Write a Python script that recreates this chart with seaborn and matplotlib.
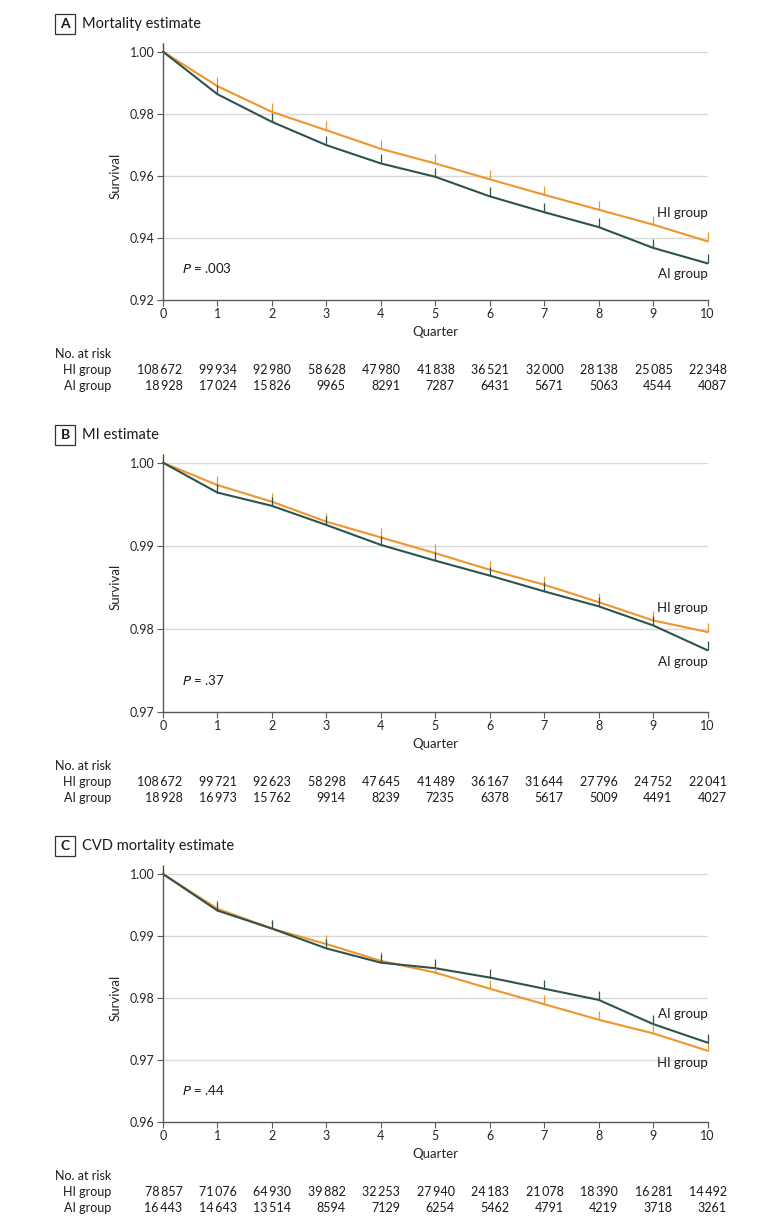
import numpy as np
import pandas as pd
import seaborn as sns
import matplotlib.pyplot as plt
from matplotlib.path import Path
from matplotlib.patches import Rectangle

##################
## Data
quarters = list(range(11))
groups = ["HI group", "AI group"]

titles = ["Mortality estimate", "MI estimate", "CVD mortality estimate"]
letters = ["A", "B", "C"]
p_texts = [".003", ".37", ".44"]

# survival estimates per quarter
hi_mort = [1.0, 0.9889, 0.9806, 0.9747, 0.9687, 0.9640, 0.9589, 0.9539, 0.9491, 0.9443, 0.9389]
ai_mort = [1.0, 0.9863, 0.9774, 0.9699, 0.9640, 0.9597, 0.9534, 0.9483, 0.9435, 0.9368, 0.9318]
hi_mi = [1.0, 0.9973, 0.9953, 0.9929, 0.9910, 0.9891, 0.9871, 0.9853, 0.9832, 0.9810, 0.9796]
ai_mi = [1.0, 0.9964, 0.9948, 0.9925, 0.9901, 0.9882, 0.9864, 0.9845, 0.9827, 0.9804, 0.9774]
hi_cvd = [1.0, 0.9944, 0.9912, 0.9887, 0.9860, 0.9841, 0.9815, 0.9790, 0.9765, 0.9743, 0.9715]
ai_cvd = [1.0, 0.9941, 0.9912, 0.9880, 0.9857, 0.9848, 0.9833, 0.9815, 0.9797, 0.9758, 0.9728]

# numbers at risk
hi_risk_mort = [108672, 99934, 92980, 58628, 47980, 41838, 36521, 32000, 28138, 25085, 22348]
ai_risk_mort = [18928, 17024, 15826, 9965, 8291, 7287, 6431, 5671, 5063, 4544, 4087]
hi_risk_mi = [108672, 99721, 92623, 58298, 47645, 41489, 36167, 31644, 27796, 24752, 22041]
ai_risk_mi = [18928, 16973, 15762, 9914, 8239, 7235, 6378, 5617, 5009, 4491, 4027]
hi_risk_cvd = [78857, 71076, 64930, 39882, 32253, 27940, 24183, 21078, 18390, 16281, 14492]
ai_risk_cvd = [16443, 14643, 13514, 8594, 7129, 6254, 5462, 4791, 4219, 3718, 3261]

y_ticks = [[0.92, 0.94, 0.96, 0.98, 1.00],
           [0.97, 0.98, 0.99, 1.00],
           [0.96, 0.97, 0.98, 0.99, 1.00]]
# label heights for the two group names (HI, AI)
label_y = [[0.9481, 0.9284], [0.98246, 0.97595], [0.96955, 0.97747]]

surv = [(hi_mort, ai_mort), (hi_mi, ai_mi), (hi_cvd, ai_cvd)]
risk = [(hi_risk_mort, ai_risk_mort), (hi_risk_mi, ai_risk_mi), (hi_risk_cvd, ai_risk_cvd)]

ORANGE = "#F0952C"
TEAL = "#2C544F"
palette = {"HI group": ORANGE, "AI group": TEAL}
GRID = "#d8d8d8"
SPINE = "#5a5a5a"

sns.set_theme(style="white")
plt.rcParams['font.family'] = ['Lato', 'DejaVu Sans']
plt.rcParams['text.color'] = '#1a1a1a'

fig = plt.figure(figsize=(7.8, 12.27), dpi=100)
W, H = 780, 1227

# censor tick: short vertical stroke going up from the point
tick_mark = Path([(0, 0), (0, 1)])


def fmt(n):
    if n >= 10000:
        return f"{n:,}".replace(",", "\u2009")
    return str(n)


axes_top = [51.7, 462.7, 874]
axes_bot = [300, 711.7, 1122]
left_px, right_px = 163, 707.5

for i in range(3):
    top, bot = axes_top[i], axes_bot[i]
    ax = fig.add_axes([left_px / W, 1 - bot / H, (right_px - left_px) / W, (bot - top) / H])

    df = pd.DataFrame({
        "quarter": quarters * 2,
        "survival": surv[i][0] + surv[i][1],
        "group": [groups[0]] * 11 + [groups[1]] * 11,
    })
    sns.lineplot(data=df, x="quarter", y="survival", hue="group", palette=palette,
                 linewidth=1.5, legend=False, ax=ax, clip_on=False, zorder=3)
    for g in groups:
        sub = df[df.group == g]
        ax.plot(sub.quarter, sub.survival, ls="none", marker=tick_mark, ms=13,
                mew=0.9, mec=palette[g], clip_on=False, zorder=4)

    ax.set_xlim(0, 10)
    ax.set_ylim(y_ticks[i][0], 1.0)
    ax.set_xticks(quarters)
    ax.set_yticks(y_ticks[i])
    ax.set_yticklabels([f"{v:.2f}" for v in y_ticks[i]])
    for v in y_ticks[i][1:]:
        ax.axhline(v, color=GRID, lw=1.0, zorder=1)

    for s in ["top", "right"]:
        ax.spines[s].set_visible(False)
    for s in ["left", "bottom"]:
        ax.spines[s].set_color(SPINE)
        ax.spines[s].set_linewidth(1.0)
    ax.tick_params(axis="both", direction="out", length=4, width=0.8, color=SPINE,
                   labelsize=9, pad=2, left=True, bottom=True)
    ax.set_xlabel("Quarter", fontsize=9.5, labelpad=4)
    ax.set_ylabel("Survival", fontsize=9.5, labelpad=6)

    # P value
    ax.annotate("$P$ = " + p_texts[i], xy=(0, 0), xycoords="axes fraction",
                xytext=(14, 23), textcoords="offset points", fontsize=9.5,
                ha="left", va="center")

    # group labels
    for g, yv in zip(groups, label_y[i]):
        ax.text(10, yv, g, ha="right", va="center", fontsize=9.5)

    # panel title with boxed letter
    ty = 1 - (top - 28) / H
    fig.text(65 / W, ty, letters[i], ha="center", va="center", fontsize=10,
             fontweight="bold")
    fig.patches.append(Rectangle((55 / W, ty - 10 / H), 20 / W, 20 / H, fill=False,
                                 ec="#333333", lw=0.9, transform=fig.transFigure))
    fig.text(82 / W, ty, titles[i], ha="left", va="center", fontsize=10.5)

    # number at risk table
    fig.text(55 / W, 1 - (bot + 54) / H, "No. at risk", ha="left", va="center", fontsize=9)
    for j, g in enumerate(groups):
        yy = 1 - (bot + 70 + 16.5 * j) / H
        fig.text(111 / W, yy, g, ha="right", va="center", fontsize=9)
        for q, n in zip(quarters, risk[i][j]):
            ax.annotate(fmt(n), xy=(q, 0), xycoords=("data", "axes fraction"),
                        xytext=(14, -(70 + 16.5 * j) * 0.72), textcoords="offset points",
                        ha="right", va="center", fontsize=9, annotation_clip=False)

fig.savefig("out.png", dpi=100)
